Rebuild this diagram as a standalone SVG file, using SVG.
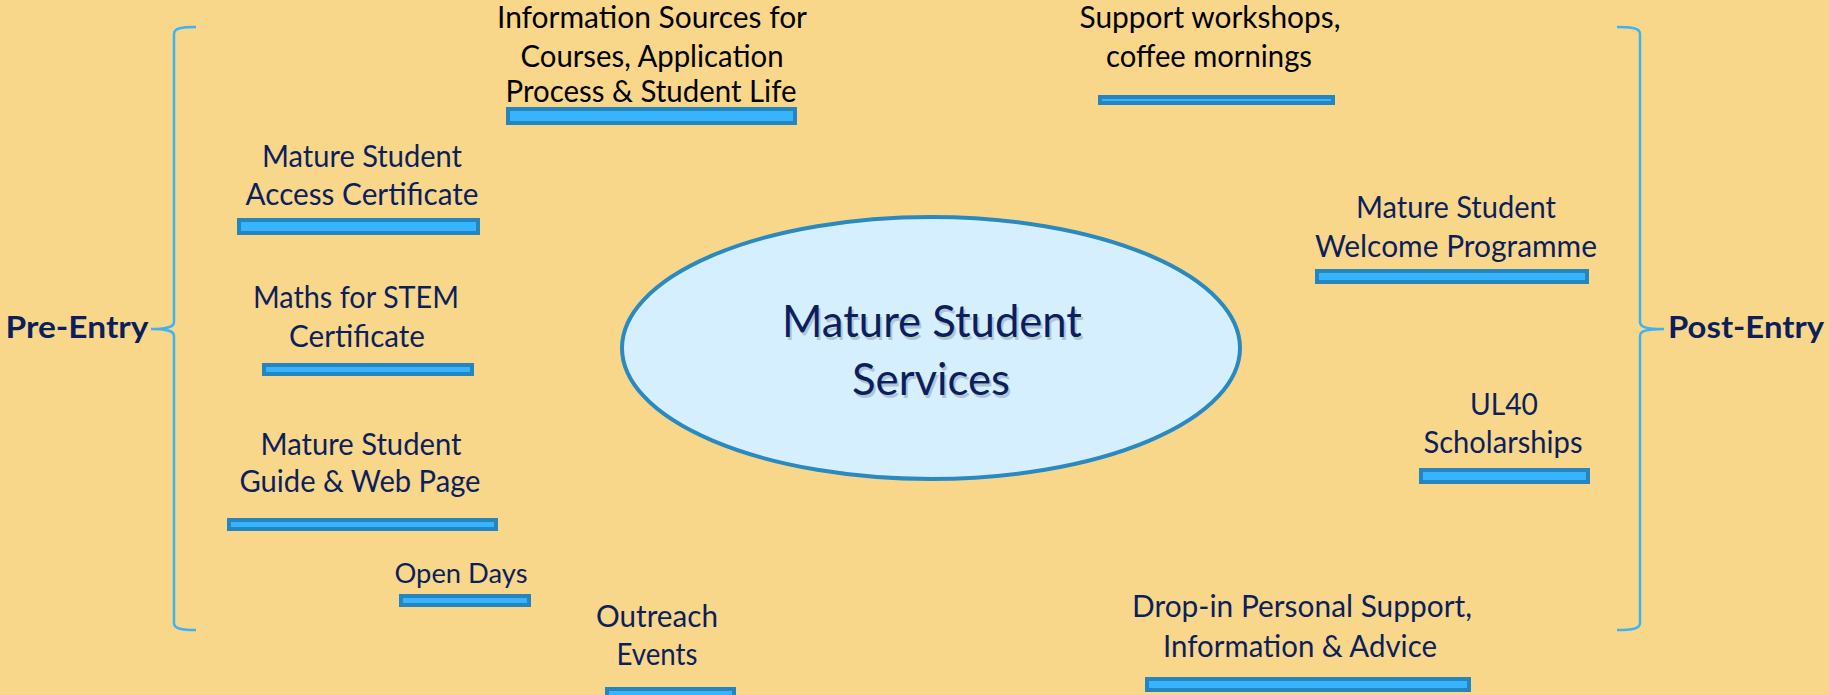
<svg xmlns="http://www.w3.org/2000/svg" width="1829" height="695" viewBox="0 0 1829 695">
<style>
text{font-family:Lato,"Open Sans","Liberation Sans",sans-serif;text-anchor:middle;}
.t{font-size:30px;fill:#0C1F5C;}
.k{font-size:30px;fill:#000000;}
.s{font-size:26px;fill:#0C1F5C;}
.h{font-size:30px;font-weight:bold;fill:#0C1F5C;}
.c{font-size:45px;fill:#0C1F5C;}
.cs{font-size:45px;fill:#9AA9B8;opacity:0.6;}
.bar{fill:#36B4FF;stroke:#2586BF;stroke-width:4;}
.brace{fill:none;stroke:#3BB3F5;stroke-width:2.5;}
</style>
<rect x="0" y="0" width="1829" height="695" fill="#F8D78A"/>
<g id="connectors">
<path class="brace" d="M196,27 C182,27 174,28 174,34 L174,322 C174,327 168,329 151,329 C168,329 174,331 174,336 L174,623 C174,629 182,630 196,630"/>
<path class="brace" d="M1617,27 C1632,27 1640,28 1640,34 L1640,322 C1640,327 1646,329 1664,329 C1646,329 1640,331 1640,336 L1640,623 C1640,629 1632,630 1617,630"/>
</g>
<g id="pre-entry"><text class="h" x="77" y="338" textLength="143" lengthAdjust="spacingAndGlyphs">Pre-Entry</text></g>
<g id="post-entry"><text class="h" x="1746" y="338" textLength="156" lengthAdjust="spacingAndGlyphs">Post-Entry</text></g>
<g id="center">
<ellipse cx="931" cy="348" rx="309" ry="131" fill="#D6EFFF" stroke="#2A89C0" stroke-width="4"/>
<text class="cs" x="934" y="340" textLength="300" lengthAdjust="spacingAndGlyphs">Mature Student</text>
<text class="cs" x="933" y="398" textLength="158" lengthAdjust="spacingAndGlyphs">Services</text>
<text class="c" x="932" y="337" textLength="300" lengthAdjust="spacingAndGlyphs">Mature Student</text>
<text class="c" x="931" y="395" textLength="158" lengthAdjust="spacingAndGlyphs">Services</text>
</g>
<g id="info-sources">
<text class="k" x="652" y="28" textLength="310" lengthAdjust="spacingAndGlyphs">Information Sources for</text>
<text class="k" x="652" y="67" textLength="263" lengthAdjust="spacingAndGlyphs">Courses, Application</text>
<text class="k" x="651" y="102" textLength="291" lengthAdjust="spacingAndGlyphs">Process &amp; Student Life</text>
<rect class="bar" x="508" y="109" width="287" height="14"/>
</g>
<g id="support-workshops">
<text class="k" x="1210" y="28" textLength="261" lengthAdjust="spacingAndGlyphs">Support workshops,</text>
<text class="k" x="1209" y="67" textLength="206" lengthAdjust="spacingAndGlyphs">coffee mornings</text>
<rect class="bar" x="1100" y="97" width="233" height="6"/>
</g>
<g id="access-certificate">
<text class="t" x="362" y="167" textLength="200" lengthAdjust="spacingAndGlyphs">Mature Student</text>
<text class="t" x="362" y="205" textLength="233" lengthAdjust="spacingAndGlyphs">Access Certificate</text>
<rect class="bar" x="239" y="220" width="239" height="13"/>
</g>
<g id="maths-stem">
<text class="t" x="356" y="308" textLength="206" lengthAdjust="spacingAndGlyphs">Maths for STEM</text>
<text class="t" x="357" y="347" textLength="136" lengthAdjust="spacingAndGlyphs">Certificate</text>
<rect class="bar" x="264" y="365" width="208" height="9"/>
</g>
<g id="guide-web">
<text class="t" x="361" y="455" textLength="201" lengthAdjust="spacingAndGlyphs">Mature Student</text>
<text class="t" x="360" y="492" textLength="241" lengthAdjust="spacingAndGlyphs">Guide &amp; Web Page</text>
<rect class="bar" x="229" y="520" width="267" height="9"/>
</g>
<g id="open-days">
<text class="s" x="461" y="583" textLength="133" lengthAdjust="spacingAndGlyphs">Open Days</text>
<rect class="bar" x="401" y="596" width="128" height="9"/>
</g>
<g id="outreach">
<text class="t" x="657" y="627" textLength="122" lengthAdjust="spacingAndGlyphs">Outreach</text>
<text class="t" x="657" y="665" textLength="81" lengthAdjust="spacingAndGlyphs">Events</text>
<rect class="bar" x="607" y="689" width="127" height="10"/>
</g>
<g id="welcome">
<text class="t" x="1456" y="218" textLength="200" lengthAdjust="spacingAndGlyphs">Mature Student</text>
<text class="t" x="1456" y="257" textLength="282" lengthAdjust="spacingAndGlyphs">Welcome Programme</text>
<rect class="bar" x="1317" y="271" width="270" height="11"/>
</g>
<g id="ul40">
<text class="t" x="1504" y="415" textLength="68" lengthAdjust="spacingAndGlyphs">UL40</text>
<text class="t" x="1503" y="453" textLength="159" lengthAdjust="spacingAndGlyphs">Scholarships</text>
<rect class="bar" x="1421" y="470" width="167" height="12"/>
</g>
<g id="drop-in">
<text class="t" x="1302" y="617" textLength="340" lengthAdjust="spacingAndGlyphs">Drop-in Personal Support,</text>
<text class="t" x="1300" y="657" textLength="274" lengthAdjust="spacingAndGlyphs">Information &amp; Advice</text>
<rect class="bar" x="1147" y="679" width="322" height="11"/>
</g>
</svg>
